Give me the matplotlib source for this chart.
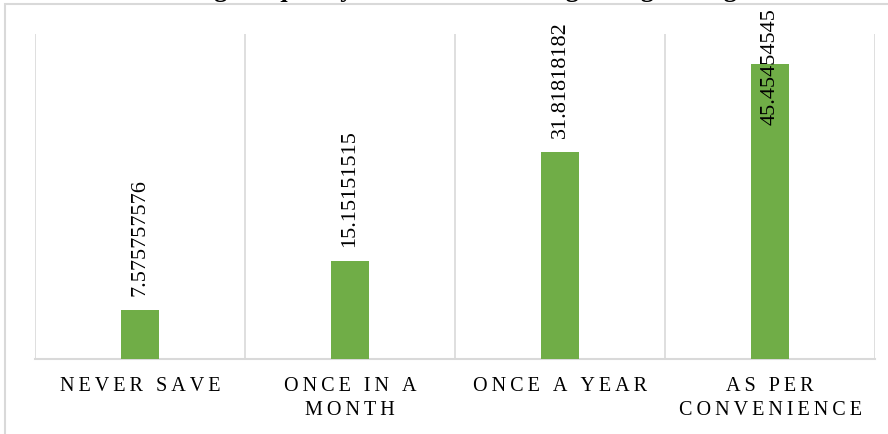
import matplotlib
matplotlib.use("Agg")
import matplotlib.pyplot as plt
from matplotlib.patches import Rectangle

categories = ["NEVER SAVE", "ONCE IN A\nMONTH", "ONCE A YEAR", "AS PER\nCONVENIENCE"]
values = [7.575757576, 15.15151515, 31.81818182, 45.45454545]
value_labels = ["7.575757576", "15.15151515", "31.81818182", "45.45454545"]
title = "Saving Frequency of the Students Regarding Saving"

SERIF = ["Liberation Serif", "DejaVu Serif"]
GRID = "#d9d9d9"
BAR = "#70ad47"

fig = plt.figure(figsize=(8.88, 4.35), dpi=100)
ax = fig.add_axes([35 / 888, 75 / 435, 840 / 888, 325 / 435])

x = list(range(len(categories)))
ax.bar(x, values, width=0.18, color=BAR, zorder=3)

ax.set_xlim(-0.5, len(categories) - 0.5)
ax.set_ylim(0, 50)

# category separators
for b in [i - 0.5 for i in range(len(categories) + 1)]:
    ax.axvline(b, color=GRID, lw=1.2, zorder=1)

for s in ["top", "right", "left"]:
    ax.spines[s].set_visible(False)
ax.spines["bottom"].set_color(GRID)
ax.spines["bottom"].set_linewidth(1.5)
ax.set_yticks([])

spaced = ["\n".join("\u2009".join(line) for line in c.split("\n")) for c in categories]
ax.set_xticks(x)
ax.set_xticklabels(spaced, fontsize=14.5, family=SERIF, linespacing=1.4)
ax.tick_params(axis="x", length=0, pad=12)

for xi, v, lab in zip(x, values, value_labels):
    y = min(v + 2.3, 36.2)
    ax.text(xi, y, lab, rotation=90, ha="center", va="bottom",
            fontsize=16, family=SERIF, zorder=4, clip_on=False)

# outer chart frame
fig.patches.append(Rectangle((5 / 888, -0.5), 1.2, 1.5 - 5 / 435, transform=fig.transFigure,
                             fill=False, edgecolor=GRID, lw=1.5, zorder=0))

fig.text(0.5, 1.0 + 2.5 / 435, title, ha="center", va="baseline", fontsize=19,
         fontweight="bold", family=SERIF)

fig.savefig("out.png", dpi=100)
